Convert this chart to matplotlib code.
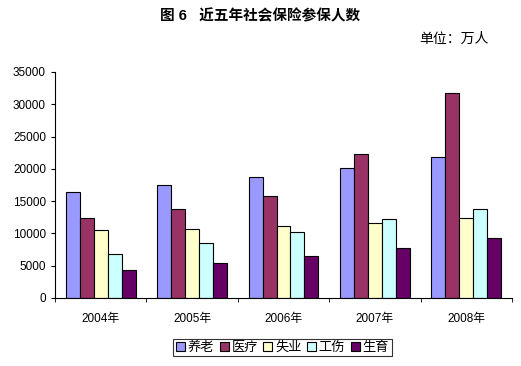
import matplotlib
matplotlib.use('Agg')
import matplotlib.pyplot as plt
import numpy as np

plt.rcParams['font.family'] = ['Liberation Sans', 'Noto Sans CJK SC']

years = ['2004年', '2005年', '2006年', '2007年', '2008年']
series = ['养老', '医疗', '失业', '工伤', '生育']
yanglao = [16353, 17488, 18766, 20137, 21891]
yiliao = [12404, 13783, 15732, 22311, 31822]
shiye = [10584, 10648, 11187, 11645, 12400]
gongshang = [6845, 8478, 10268, 12173, 13787]
shengyu = [4384, 5408, 6459, 7775, 9254]
colors = ['#9999FF', '#993366', '#FFFFCC', '#CCFFFF', '#660066']

values = [yanglao, yiliao, shiye, gongshang, shengyu]

fig = plt.figure(figsize=(5.21, 3.66), dpi=100)
ax = fig.add_axes([0.1056, 0.1858, 0.8771, 0.6175])

x = np.arange(len(years))
w = 0.153
for i, (name, vals) in enumerate(zip(series, values)):
    ax.bar(x + (i - 2) * w, vals, width=w, color=colors[i],
           edgecolor='black', linewidth=0.8, label=name)

ax.set_xlim(-0.5, 4.5)
ax.set_ylim(0, 35000)
ax.set_yticks(np.arange(0, 35001, 5000))
ax.set_xticks(x)
ax.set_xticklabels(years, fontsize=8.5)
ax.set_xticks(np.arange(-0.5, 4.6, 1), minor=True)
ax.tick_params(axis='x', which='major', length=0, pad=11)
ax.tick_params(axis='x', which='minor', length=3, direction='out')
ax.tick_params(axis='y', labelsize=8.5, length=3, direction='out')
ax.spines['top'].set_visible(False)
ax.spines['right'].set_visible(False)

fig.text(0.5, 0.955, '图 6   近五年社会保险参保人数', ha='center', va='center',
         fontsize=10.5, fontweight='bold')
fig.text(0.937, 0.895, '单位：万人', ha='right', va='center', fontsize=10)

leg = fig.legend(loc='center', bbox_to_anchor=(0.542, 0.05), ncol=5,
                 fontsize=9.5, frameon=True, fancybox=False, handlelength=0.7,
                 handleheight=0.7, handletextpad=0.2, columnspacing=0.4,
                 borderpad=0.2, borderaxespad=0)
leg.get_frame().set_edgecolor('black')
leg.get_frame().set_linewidth(0.8)

fig.savefig('out.png', dpi=100)
